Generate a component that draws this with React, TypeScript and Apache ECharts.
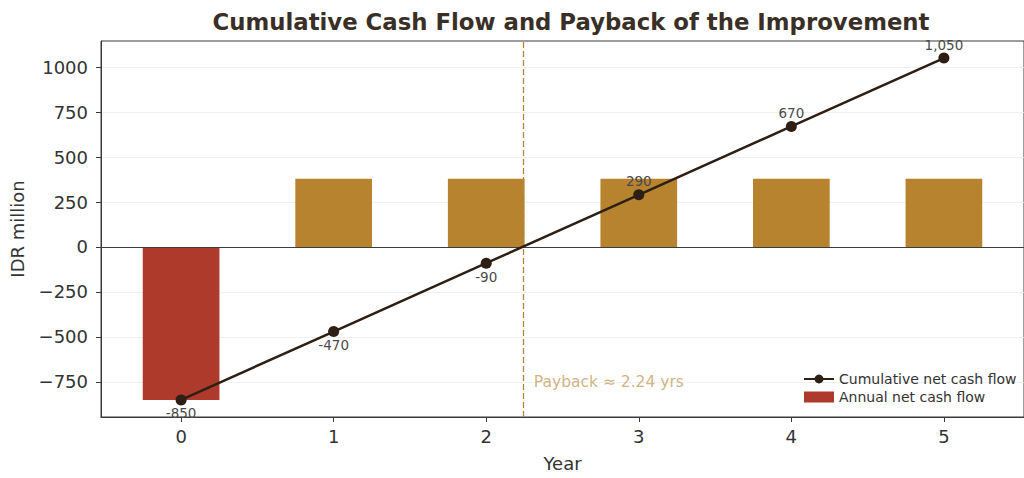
import React, { useEffect, useRef } from "react";
import * as echarts from "echarts";

// Project years and cash flows (IDR million)
const years = [0, 1, 2, 3, 4, 5];
const annualNetCashFlow = [-850, 380, 380, 380, 380, 380];
const cumulativeNetCashFlow = [-850, -470, -90, 290, 670, 1050];
const paybackYears = 2.24;
const yTicks = [-750, -500, -250, 0, 250, 500, 750, 1000];

const X_MIN = -0.525;
const X_MAX = 5.525;
const Y_MIN = -945;
const Y_MAX = 1145;

const FONT = "DejaVu Sans";
const RED = "#ae3a2c";
const GOLD = "#b8832f";
const LINE = "#2d1f14";
const SPINE = "#3a3a3a";
const TEXT = "#333333";

export default function App() {
  const ref = useRef<HTMLDivElement>(null);

  useEffect(() => {
    if (!ref.current) return;
    const chart = echarts.init(ref.current, undefined, { renderer: "svg" });

    const gridLeft = 101;
    const gridRight = -5;
    const plotWidth = 1024 - gridLeft - gridRight;
    const barWidth = (0.5 * plotWidth) / (X_MAX - X_MIN);

    chart.setOption({
      animation: false,
      backgroundColor: "#ffffff",
      textStyle: { fontFamily: FONT },
      title: {
        text: "Cumulative Cash Flow and Payback of the Improvement",
        left: 566,
        textAlign: "center",
        top: 5,
        textStyle: { fontFamily: FONT, fontSize: 22.8, fontWeight: "bold", color: "#3a2f27" },
      },
      legend: {
        orient: "vertical",
        left: 798,
        top: 367,
        itemWidth: 30,
        itemHeight: 11,
        itemGap: 4,
        textStyle: { fontFamily: FONT, fontSize: 14, color: TEXT },
        data: [
          { name: "Cumulative net cash flow" },
          { name: "Annual net cash flow", icon: "rect" },
        ],
      },
      grid: {
        left: gridLeft,
        right: gridRight,
        top: 41,
        bottom: 61,
        show: true,
        borderColor: SPINE,
        borderWidth: 1,
      },
      xAxis: {
        type: "value",
        min: X_MIN,
        max: X_MAX,
        name: "Year",
        nameLocation: "middle",
        nameGap: 37,
        nameTextStyle: { fontFamily: FONT, fontSize: 18, color: TEXT },
        axisLine: { show: true, onZero: false, lineStyle: { color: SPINE, width: 1 } },
        splitLine: { show: false },
        axisTick: { show: true, length: 5, lineStyle: { color: SPINE }, customValues: years },
        axisLabel: {
          fontFamily: FONT,
          fontSize: 18,
          color: TEXT,
          margin: 10,
          customValues: years,
          formatter: (v: number) => String(v),
        },
      },
      yAxis: {
        type: "value",
        min: Y_MIN,
        max: Y_MAX,
        name: "IDR million",
        nameLocation: "middle",
        nameGap: 75,
        nameTextStyle: { fontFamily: FONT, fontSize: 18, color: TEXT },
        axisLine: { show: true, onZero: false, lineStyle: { color: SPINE, width: 1 } },
        splitLine: { show: false },
        axisTick: { show: true, length: 5, lineStyle: { color: SPINE }, customValues: yTicks },
        axisLabel: {
          fontFamily: FONT,
          fontSize: 18,
          color: TEXT,
          margin: 13,
          customValues: yTicks,
          formatter: (v: number) => (v < 0 ? "\u2212" + Math.abs(v) : String(v)),
        },
      },
      series: [
        {
          // light horizontal grid behind the bars
          name: "grid",
          type: "line",
          data: [],
          silent: true,
          z: 0,
          markLine: {
            silent: true,
            symbol: "none",
            z: 0,
            label: { show: false },
            data: yTicks
              .filter((t) => t !== 0)
              .map((t) => ({ yAxis: t, lineStyle: { color: "#ececec", width: 0.8, type: "solid" } })),
          },
        },
        {
          name: "Annual net cash flow",
          type: "bar",
          barWidth,
          itemStyle: { color: RED },
          data: years.map((y, i) => ({
            value: [y, annualNetCashFlow[i]],
            itemStyle: { color: annualNetCashFlow[i] < 0 ? RED : GOLD },
          })),
          markLine: {
            silent: true,
            symbol: "none",
            z: 3,
            label: { show: false },
            data: [
              { yAxis: 0, lineStyle: { color: "#3d3d3d", width: 1, type: "solid" } },
              { xAxis: paybackYears, lineStyle: { color: "#b5863a", width: 1.3, type: [6, 3] } },
            ],
          },
          z: 2,
        },
        {
          name: "Cumulative net cash flow",
          type: "line",
          data: years.map((y, i) => ({
            value: [y, cumulativeNetCashFlow[i]],
            label: { position: cumulativeNetCashFlow[i] < 0 ? "bottom" : "top" },
          })),
          color: LINE,
          lineStyle: { color: LINE, width: 2.5 },
          itemStyle: { color: LINE },
          symbol: "circle",
          symbolSize: 11,
          label: {
            show: true,
            fontFamily: FONT,
            fontSize: 13.5,
            color: "#4a4a4a",
            distance: 1,
            formatter: (p: any) => p.value[1].toLocaleString("en-US"),
          },
          z: 5,
        },
        {
          name: "payback",
          type: "scatter",
          symbolSize: 0,
          silent: true,
          data: [[paybackYears, -750]],
          label: {
            show: true,
            position: "right",
            distance: 11,
            fontFamily: FONT,
            fontSize: 15.5,
            color: "#c4a064",
            formatter: () => `Payback \u2248 ${paybackYears.toFixed(2)} yrs`,
          },
          z: 4,
        },
      ],
    });

    return () => chart.dispose();
  }, []);

  return (
    <div
      ref={ref}
      style={{ position: "fixed", left: 0, top: 0, width: 1024, height: 478 }}
    />
  );
}
